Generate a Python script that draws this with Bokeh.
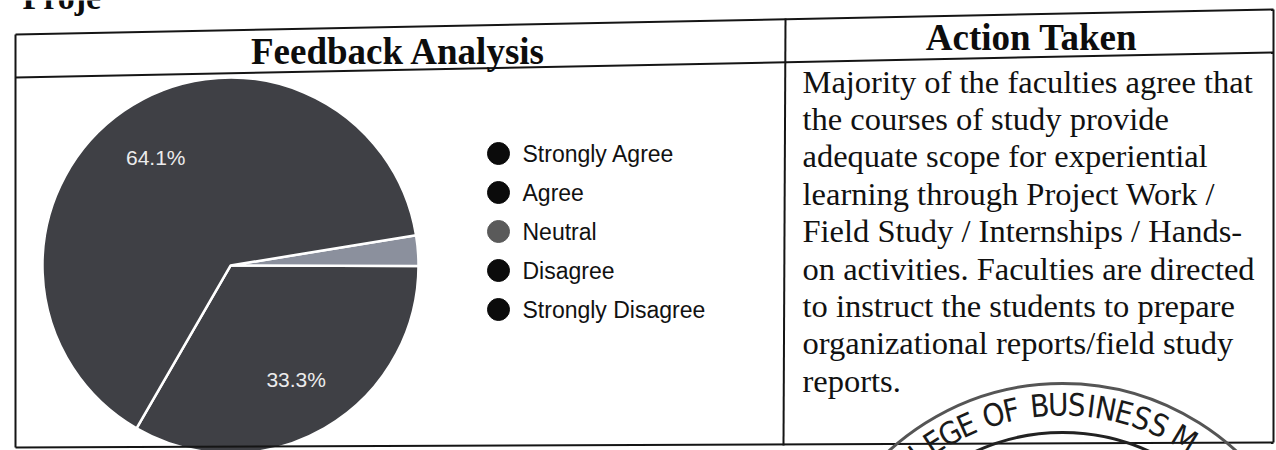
import numpy as np
from bokeh.plotting import figure
from bokeh.models import Range1d, ColumnDataSource
from bokeh.core.properties import value
from bokeh.embed import file_html
from bokeh.resources import INLINE

# ---------------- data ----------------
categories = ["Strongly Agree", "Agree", "Neutral", "Disagree", "Strongly Disagree"]
percents = [64.1, 33.3, 2.6, 0.0, 0.0]
slice_colors = ["#3f4045", "#3f4045", "#8b909d", "#3f4045", "#3f4045"]
legend_colors = ["#0b0b0b", "#0b0b0b", "#5a5a5a", "#0b0b0b", "#0b0b0b"]
ccw_order = ["Agree", "Neutral", "Strongly Agree", "Disagree", "Strongly Disagree"]

page_heading = "Proje"
header_left = "Feedback Analysis"
header_right = "Action Taken"
action_lines = [
    "Majority of the faculties agree that",
    "the courses of study provide",
    "adequate scope for experiential",
    "learning through Project Work /",
    "Field Study / Internships / Hands-",
    "on activities. Faculties are directed",
    "to instruct the students to prepare",
    "organizational reports/field study",
    "reports.",
]
stamp_text = "LEGE OF BUSINESS M"

# ---------------- figure ----------------
W, H = 1276, 450
p = figure(width=W, height=H, x_range=Range1d(0, W), y_range=Range1d(0, H),
           output_backend="svg", toolbar_location=None, min_border=0,
           x_axis_location=None, y_axis_location=None)
p.grid.visible = False
p.outline_line_color = None
p.background_fill_color = "white"
p.border_fill_color = "white"


def Y(ry):
    return H - ry


# ---------------- pie ----------------
cx, cy, r = 230, Y(265), 188
start0 = np.deg2rad(240)
pct = dict(zip(categories, percents))
col = dict(zip(categories, slice_colors))
starts, ends, colors, vals = [], [], [], []
a = start0
for c in ccw_order:
    v = pct[c]
    if v <= 0:
        continue
    span = 2 * np.pi * v / 100.0
    starts.append(a)
    ends.append(a + span)
    colors.append(col[c])
    vals.append(v)
    a += span
src = ColumnDataSource(dict(start=starts, end=ends, color=colors, val=vals))
p.wedge(x=cx, y=cy, radius=r, start_angle="start", end_angle="end",
        fill_color="color", line_color="white", line_width=2.5, source=src)

lx, ly, lt = [], [], []
for s, e, v in zip(starts, ends, vals):
    if v < 5:
        continue
    m = (s + e) / 2
    lx.append(cx + 0.7 * r * np.cos(m))
    ly.append(cy + 0.7 * r * np.sin(m))
    lt.append(f"{v:.1f}%")
p.text(x=lx, y=ly, text=lt, text_font=value("Liberation Sans"), text_font_size="21px",
       text_color="#ececec", text_align="center", text_baseline="middle")

# ---------------- legend ----------------
leg_y = [Y(153 + 39 * i) for i in range(len(categories))]
p.scatter(x=[498] * len(categories), y=leg_y, size=22, marker="circle",
          fill_color=legend_colors, line_color=legend_colors)
p.text(x=[522] * len(categories), y=leg_y, text=categories,
       text_font=value("Liberation Sans"), text_font_size="23px", text_color="#111111",
       text_align="left", text_baseline="middle")

# ---------------- table ----------------
seg = dict(
    x0=[15, 15, 15, 15, 785, 1273],
    y0=[Y(34), Y(77), Y(447), Y(34), Y(18), Y(9)],
    x1=[1273, 1273, 1273, 15, 783, 1273],
    y1=[Y(9), Y(52), Y(442), Y(447), Y(445), Y(442)],
)
p.segment(x0="x0", y0="y0", x1="x1", y1="y1", source=ColumnDataSource(seg),
          line_color="#151515", line_width=2)

p.text(x=[22], y=[Y(-3)], text=[page_heading], text_font=value("Liberation Serif"),
       text_font_size="34px", text_font_style="bold", text_color="#0d0d0d",
       text_align="left", text_baseline="middle")
p.text(x=[398], y=[Y(51)], text=[header_left], text_font=value("Liberation Serif"),
       text_font_size="37px", text_font_style="bold", text_color="#0d0d0d",
       text_align="center", text_baseline="middle")
p.text(x=[1031], y=[Y(37)], text=[header_right], text_font=value("Liberation Serif"),
       text_font_size="37px", text_font_style="bold", text_color="#0d0d0d",
       text_align="center", text_baseline="middle")

p.text(x=[802] * len(action_lines), y=[Y(81 + 37.4 * i) for i in range(len(action_lines))],
       text=action_lines, text_font=value("Liberation Serif"), text_font_size="32.5px",
       text_color="#111111", text_align="left", text_baseline="middle")

# ---------------- stamp ----------------
scx, scy = 1062, Y(640)
p.arc(x=[scx], y=[scy], radius=[257], start_angle=np.deg2rad(30),
      end_angle=np.deg2rad(150), line_color="#555555", line_width=3)
p.arc(x=[scx], y=[scy], radius=[208], start_angle=np.deg2rad(30),
      end_angle=np.deg2rad(150), line_color="#222222", line_width=3)
weights = [0.55 if ch == " " else (0.6 if ch == "I" else 1.0) for ch in stamp_text]
centers = np.cumsum(weights) - np.array(weights) / 2
deg_per = 4.5
angs = np.deg2rad(127.5 - (centers - centers[0]) * deg_per)
rt = 236
p.text(x=list(scx + rt * np.cos(angs)), y=list(scy + rt * np.sin(angs)), text=list(stamp_text),
       angle=list(angs - np.pi / 2), text_font=value("DejaVu Sans Condensed, Liberation Sans"),
       text_font_size="31px", text_color="#1a1a1a", text_align="center",
       text_baseline="middle")

open("out.html", "w").write(file_html(p, INLINE))
